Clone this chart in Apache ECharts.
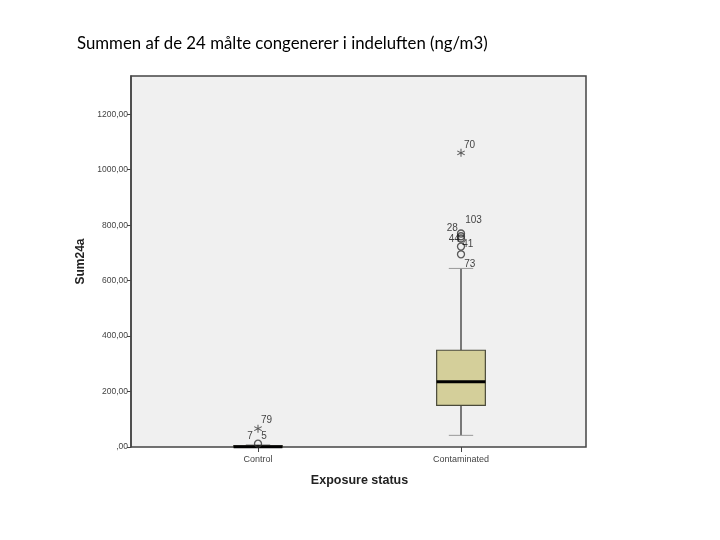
<!DOCTYPE html>
<html>
<head>
<meta charset="utf-8">
<script src="https://cdn.jsdelivr.net/npm/echarts@6/dist/echarts.min.js"></script>
<style>
  html, body { margin: 0; padding: 0; background: #fff; }
  #chart { width: 720px; height: 540px; }
</style>
</head>
<body>
<div id="chart"></div>
<script>
// categories and box statistics (min, q1, median, q3, max)
const categories = ['Control', 'Contaminated']
const boxMin = [0, 42]
const boxQ1 = [0, 150]
const boxMedian = [1, 235]
const boxQ3 = [4, 349]
const boxMax = [8, 644]

// outliers: category index, value, case label, extreme (star) or not
const outlierCat = [0, 0, 1, 1, 1, 1, 1, 1]
const outlierValues = [12, 66, 1061, 770, 760, 752, 723, 695]
const outlierIds = ['7   5', '79', '70', '103', '28', '44', '41', '73']
const outlierExtreme = [false, true, true, false, false, false, false, false]

const yTicks = [0, 200, 400, 600, 800, 1000, 1200]
const yMax = 1338

// label placement per outlier label
const labelPlace = {
  '7   5': { position: 'top', offset: [-1, 4] },
  '79': { position: 'right', offset: [-3, -8] },
  '70': { position: 'right', offset: [-3, -8] },
  '103': { position: 'right', offset: [-2, -13] },
  '28': { position: 'left', offset: [3, -8] },
  '44': { position: 'left', offset: [5, 1] },
  '41': { position: 'right', offset: [-5, -2] },
  '73': { position: 'right', offset: [-3, 10] }
}

// six-armed asterisk, like the SPSS extreme marker
const asteriskPath = 'path://M4.4,0 L5.6,0 L5.6,10 L4.4,10 Z ' +
  'M0.97,1.98 L9.63,6.98 L9.03,8.02 L0.37,3.02 Z ' +
  'M0.37,6.98 L9.03,1.98 L9.63,3.02 L0.97,8.02 Z'

const chart = echarts.init(document.getElementById('chart'))

const boxData = categories.map((c, i) => [i, boxMin[i], boxQ1[i], boxMedian[i], boxQ3[i], boxMax[i]])

const renderBox = (params, api) => {
  const x = api.value(0)
  const pMin = api.coord([x, api.value(1)])
  const pQ1 = api.coord([x, api.value(2)])
  const pMed = api.coord([x, api.value(3)])
  const pQ3 = api.coord([x, api.value(4)])
  const pMax = api.coord([x, api.value(5)])
  const band = api.size([1, 0])[0]
  const half = band * 0.12
  const cap = band * 0.06
  const cx = pMed[0]
  return {
    type: 'group',
    children: [
      { type: 'line', shape: { x1: cx, y1: pMin[1], x2: cx, y2: pQ1[1] }, style: { stroke: '#000', lineWidth: 1 } },
      { type: 'line', shape: { x1: cx, y1: pQ3[1], x2: cx, y2: pMax[1] }, style: { stroke: '#000', lineWidth: 1 } },
      { type: 'line', shape: { x1: cx - cap, y1: pMin[1], x2: cx + cap, y2: pMin[1] }, style: { stroke: '#999', lineWidth: 1 } },
      { type: 'line', shape: { x1: cx - cap, y1: pMax[1], x2: cx + cap, y2: pMax[1] }, style: { stroke: '#999', lineWidth: 1 } },
      {
        type: 'rect',
        shape: { x: cx - half, y: pQ3[1], width: half * 2, height: Math.max(pQ1[1] - pQ3[1], 1) },
        style: { fill: '#d4cf9a', stroke: '#4a4a3a', lineWidth: 1.2 }
      },
      { type: 'line', shape: { x1: cx - half, y1: pMed[1], x2: cx + half, y2: pMed[1] }, style: { stroke: '#000', lineWidth: 3 } }
    ]
  }
}

const outlierData = outlierValues.map((v, i) => ({
  value: [outlierCat[i], v],
  symbol: outlierExtreme[i] ? asteriskPath : 'circle',
  symbolSize: outlierExtreme[i] ? 8 : 7,
  itemStyle: outlierExtreme[i]
    ? { color: '#333', borderWidth: 0 }
    : { color: 'rgba(0,0,0,0)', borderColor: '#333', borderWidth: 1.3 },
  label: {
    show: true,
    formatter: outlierIds[i],
    position: labelPlace[outlierIds[i]].position,
    offset: labelPlace[outlierIds[i]].offset,
    distance: 2,
    fontSize: 10,
    color: '#111',
    fontFamily: 'Liberation Sans'
  }
}))

const option = {
  backgroundColor: '#fff',
  animation: false,
  title: {
    text: 'Summen af de 24 målte congenerer i indeluften (ng/m3)',
    left: 77,
    top: 35,
    padding: 0,
    textStyle: { fontSize: 16.8, fontWeight: 'normal', color: '#000', fontFamily: 'Lato' }
  },
  grid: [
    { left: 131, right: 134, top: 76, bottom: 93, show: true, backgroundColor: '#f0f0f0', borderColor: '#444', borderWidth: 1.5 },
    { left: 156.5, width: 406, top: 76, bottom: 93 }
  ],
  xAxis: [
    { type: 'value', gridIndex: 0, show: false, min: 0, max: 1 },
    {
      type: 'category',
      gridIndex: 1,
      data: categories,
      boundaryGap: true,
      name: 'Exposure status',
      nameLocation: 'middle',
      nameGap: 27,
      nameTextStyle: { fontSize: 12.5, fontWeight: 'bold', color: '#222', fontFamily: 'Liberation Sans' },
      axisLine: { show: false },
      axisTick: { show: true, alignWithLabel: true, length: 5, lineStyle: { color: '#444' } },
      axisLabel: { fontSize: 9, color: '#444', margin: 8, fontFamily: 'Liberation Sans' },
      splitLine: { show: false }
    }
  ],
  yAxis: [
    {
      type: 'value',
      gridIndex: 0,
      min: 0,
      max: yMax,
      name: 'Sum24a',
      nameLocation: 'middle',
      nameGap: 43,
      nameTextStyle: { fontSize: 12, fontWeight: 'bold', color: '#222', fontFamily: 'Liberation Sans' },
      axisLine: { show: true, lineStyle: { color: '#444', width: 1.5 } },
      axisTick: { show: true, length: 4, customValues: yTicks, lineStyle: { color: '#444' } },
      axisLabel: {
        fontSize: 8.5,
        color: '#444',
        margin: 3,
        fontFamily: 'Liberation Sans',
        customValues: yTicks,
        formatter: v => (v === 0 ? ',00' : v + ',00')
      },
      splitLine: { show: false }
    },
    { type: 'value', gridIndex: 1, min: 0, max: yMax, show: false, splitLine: { show: false } }
  ],
  series: [
    {
      type: 'custom',
      xAxisIndex: 1,
      yAxisIndex: 1,
      renderItem: renderBox,
      encode: { x: 0, y: [1, 2, 3, 4, 5] },
      data: boxData,
      z: 5
    },
    {
      type: 'scatter',
      xAxisIndex: 1,
      yAxisIndex: 1,
      data: outlierData,
      z: 6
    }
  ]
}

chart.setOption(option)
</script>
</body>
</html>
